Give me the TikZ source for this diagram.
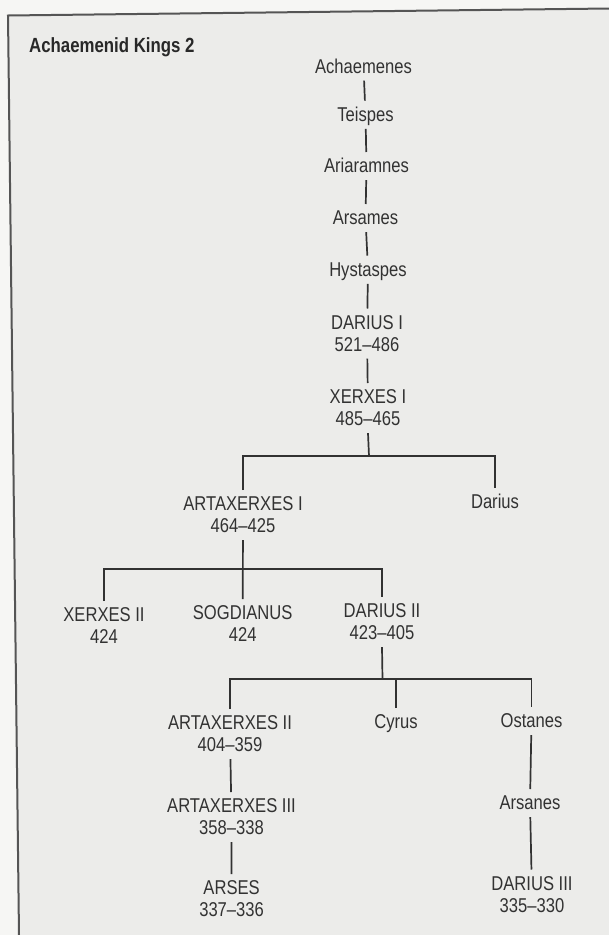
\documentclass[tikz,border=0pt]{standalone}
\usepackage{fontspec}
\setmainfont{Liberation Sans}[FakeStretch=0.83]
\newfontfamily\headfont{Liberation Sans}[FakeStretch=0.82]
\definecolor{paper}{HTML}{F6F6F4}
\definecolor{panel}{HTML}{ECECEA}
\definecolor{ink}{HTML}{323232}
\definecolor{rule}{HTML}{555555}
% strut-padded label text: fixed gap above the first line and below the last
\newcommand\kin[1]{\rule{0pt}{20.3pt}#1\rule[-7.5pt]{0pt}{7.5pt}}
\tikzset{
  king/.style={anchor=north, inner sep=0pt, align=center, text=ink,
    font=\fontsize{20}{22}\selectfont},
  link/.style={draw=ink, line width=1.7pt},
}
\begin{document}
\begin{tikzpicture}[x=1pt, y=-1pt]
  \useasboundingbox (0,0) rectangle (609,935);
  % page and framed panel
  \fill[paper] (0,0) rectangle (609,935);
  \fill[panel] (8,15.5) -- (609,8.5) -- (609,935) -- (19,935) -- cycle;
  \draw[rule, line width=2pt] (19,935) -- (8,15.5) -- (609,8.5);

  % title
  \node[anchor=base west, inner sep=0pt, text=ink!80!black,
        font=\headfont\bfseries\fontsize{20.5}{24}\selectfont]
        (title) at (29,52.5) {Achaemenid Kings 2};

  % direct line of descent
  \node[king] (ach)   at (363.5,52.5)  {\kin{Achaemenes}};
  \node[king] (tei)   at (365.5,100.7) {\kin{Teispes}};
  \node[king] (ari)   at (366.5,152)   {\kin{Ariaramnes}};
  \node[king] (ars)   at (365.5,204)   {\kin{Arsames}};
  \node[king] (hys)   at (368,255.7)   {\kin{Hystaspes}};
  \node[king] (dar1)  at (367,308.5)   {\kin{DARIUS I\\521–486}};
  \node[king] (xer1)  at (368,383)     {\kin{XERXES I\\485–465}};

  % sons of Xerxes I
  \node[king] (art1)  at (243,490)     {\kin{ARTAXERXES I\\464–425}};
  \node[king] (darb)  at (495,488)     {\kin{Darius}};

  % sons of Artaxerxes I
  \node[king] (xer2)  at (104,601)     {\kin{XERXES II\\424}};
  \node[king] (sogd)  at (242.7,599)   {\kin{SOGDIANUS\\424}};
  \node[king] (dar2)  at (382,597)     {\kin{DARIUS II\\423–405}};

  % sons of Darius II
  \node[king] (art2)  at (230,709)     {\kin{ARTAXERXES II\\404–359}};
  \node[king] (cyr)   at (396,708)     {\kin{Cyrus}};
  \node[king] (ost)   at (531.5,707)   {\kin{Ostanes}};

  % later descendants
  \node[king] (art3)  at (231.5,792)   {\kin{ARTAXERXES III\\358–338}};
  \node[king] (arses) at (231.6,874)   {\kin{ARSES\\337–336}};
  \node[king] (arsn)  at (530,789)     {\kin{Arsanes}};
  \node[king] (dar3)  at (532,869.5)   {\kin{DARIUS III\\335–330}};

  % branch junctions
  \coordinate (j1) at (369,456);
  \coordinate (j2) at (242.7,569.3);
  \coordinate (j3) at (382.5,679);

  % connectors
  \draw[link] (ach) -- (tei);
  \draw[link] (tei) -- (ari);
  \draw[link] (ari) -- (ars);
  \draw[link] (ars) -- (hys);
  \draw[link] (hys) -- (dar1);
  \draw[link] (dar1) -- (xer1);

  \draw[link] (xer1.south) -- (j1);
  \draw[link] (art1.north) |- (j1) -| (darb.north);

  \draw[link] (art1) -- (sogd);
  \draw[link] (xer2.north) |- (j2) -| (dar2.north);

  \draw[link] (dar2.south) -- (j3);
  \draw[link] (art2.north) |- (j3) -| (ost.north);
  \draw[link] (cyr.north) -- (cyr.north |- j3);

  \draw[link] (art2) -- (art3);
  \draw[link] (art3) -- (arses);
  \draw[link] (ost) -- (arsn);
  \draw[link] (arsn) -- (dar3);
\end{tikzpicture}
\end{document}
